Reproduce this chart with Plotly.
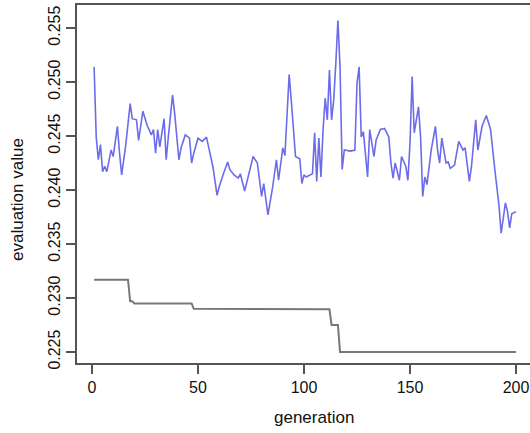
import plotly.graph_objects as go

# Blue series: evaluation value per generation
gen_eval = [1, 2, 3, 4, 5, 6, 7, 9, 10, 12, 13, 14, 16, 18, 19, 21, 22, 24, 26, 28, 29, 30,
            31, 32, 34, 35, 36, 38, 39, 41, 42, 44, 46, 47, 48, 50, 52, 54, 55, 57, 59, 60,
            62, 64, 65, 67, 69, 70, 72, 74, 76, 78, 80, 81, 83, 85, 87, 88, 90, 91, 92, 93,
            94, 96, 98, 99, 100, 101, 103, 104, 105, 106, 107, 108, 109, 110, 111, 112, 113,
            114, 115, 116, 117, 118, 119, 122, 124, 125, 126, 127, 128, 130, 131, 133, 134,
            136, 138, 140, 141, 142, 143, 145, 146, 148, 149, 150, 151, 152, 154, 155, 156,
            157, 158, 160, 162, 163, 164, 165, 167, 168, 169, 171, 173, 175, 176, 178, 179,
            181, 182, 184, 186, 188, 190, 192, 193, 195, 196, 197, 198, 200]
val_eval = [0.2514, 0.2449, 0.2428, 0.2442, 0.2417, 0.2422, 0.2417, 0.2437, 0.2431, 0.2459,
            0.2434, 0.2414, 0.2443, 0.2480, 0.2466, 0.2465, 0.2446, 0.2473, 0.2460, 0.2451,
            0.2456, 0.2434, 0.2456, 0.2440, 0.2466, 0.2428, 0.2449, 0.2488, 0.2471, 0.2428,
            0.2439, 0.2451, 0.2448, 0.2425, 0.2434, 0.2448, 0.2445, 0.2449, 0.2440, 0.2422,
            0.2395, 0.2403, 0.2415, 0.2426, 0.2419, 0.2414, 0.2411, 0.2415, 0.2399, 0.2415,
            0.2431, 0.2425, 0.2394, 0.2406, 0.2377, 0.2400, 0.2428, 0.2409, 0.2439, 0.2432,
            0.2477, 0.2507, 0.2483, 0.2431, 0.2429, 0.2406, 0.2414, 0.2412, 0.2414, 0.2415,
            0.2453, 0.2408, 0.2448, 0.2412, 0.2456, 0.2485, 0.2465, 0.2511, 0.2465, 0.2483,
            0.2517, 0.2557, 0.2514, 0.2419, 0.2437, 0.2436, 0.2437, 0.2499, 0.2514, 0.2449,
            0.2454, 0.2412, 0.2456, 0.2431, 0.2446, 0.2456, 0.2457, 0.2449, 0.2425, 0.2411,
            0.2425, 0.2409, 0.2431, 0.2422, 0.2409, 0.2443, 0.2505, 0.2453, 0.2477, 0.2449,
            0.2394, 0.2412, 0.2405, 0.2437, 0.2459, 0.2437, 0.2425, 0.2448, 0.2425, 0.2426,
            0.2420, 0.2423, 0.2445, 0.2437, 0.2439, 0.2408, 0.2422, 0.2465, 0.2437, 0.2459,
            0.2469, 0.2456, 0.2419, 0.2385, 0.2360, 0.2388, 0.2380, 0.2365, 0.2378, 0.2380]

# Gray series: best value so far (step points)
gen_best = [1, 17, 18, 19, 20, 47, 48, 92, 93, 112, 113, 116, 117, 200]
val_best = [0.2317, 0.2317, 0.2297, 0.2297, 0.2295, 0.2295, 0.2290, 0.2290, 0.22895,
            0.22895, 0.2275, 0.2275, 0.2250, 0.2250]

x_ticks = [0, 50, 100, 150, 200]
y_ticks = [0.225, 0.230, 0.235, 0.240, 0.245, 0.250, 0.255]
y_tick_text = ["0.225", "0.230", "0.235", "0.240", "0.245", "0.250", "0.255"]

FONT = "Liberation Sans, Arial, sans-serif"

W, H = 530, 433
ML, MR, MT, MB = 77, 0, 5, 70

fig = go.Figure()
fig.add_trace(go.Scatter(x=gen_best, y=val_best, mode="lines",
                         line=dict(color="rgb(120,120,120)", width=2), showlegend=False))
fig.add_trace(go.Scatter(x=gen_eval, y=val_eval, mode="lines",
                         line=dict(color="rgb(108,108,234)", width=1.6), showlegend=False))


def px_to_paper(px, py):
    return (px - ML) / (W - ML - MR), (H - MB - py) / (H - MT - MB)


gx, gy = px_to_paper(314, 417)
ex, ey = px_to_paper(18, 200)

fig.update_layout(
    width=W, height=H,
    margin=dict(l=ML, r=MR, t=MT, b=MB),
    paper_bgcolor="white", plot_bgcolor="white",
    font=dict(family=FONT, size=16, color="#111"),
    xaxis=dict(range=[-7.07, 206.6], tickvals=x_ticks, ticks="outside", ticklen=9,
               tickwidth=1.5, tickcolor="#555", showline=True, mirror=True,
               linecolor="#555", linewidth=2, showgrid=False, zeroline=False,
               tickfont=dict(size=16, family=FONT, color="#111")),
    yaxis=dict(range=[0.22398, 0.25713], tickvals=y_ticks, ticktext=y_tick_text,
               ticks="outside", ticklen=9, tickwidth=1.5, tickcolor="#555",
               showline=True, mirror=False, linecolor="#555", linewidth=2,
               showgrid=False, zeroline=False, tickangle=-90,
               tickfont=dict(size=16, family=FONT, color="#111")),
    annotations=[
        dict(text="generation", x=gx, y=gy, xref="paper", yref="paper",
             xanchor="center", yanchor="middle",
             showarrow=False, font=dict(size=17, family=FONT, color="#111")),
        dict(text="evaluation value", x=ex, y=ey, xref="paper", yref="paper",
             xanchor="center", yanchor="middle",
             showarrow=False, textangle=-90, font=dict(size=17, family=FONT, color="#111")),
    ],
)

fig.write_html("out.html", config={"displayModeBar": False},
               post_script="document.body.style.margin='0';")
